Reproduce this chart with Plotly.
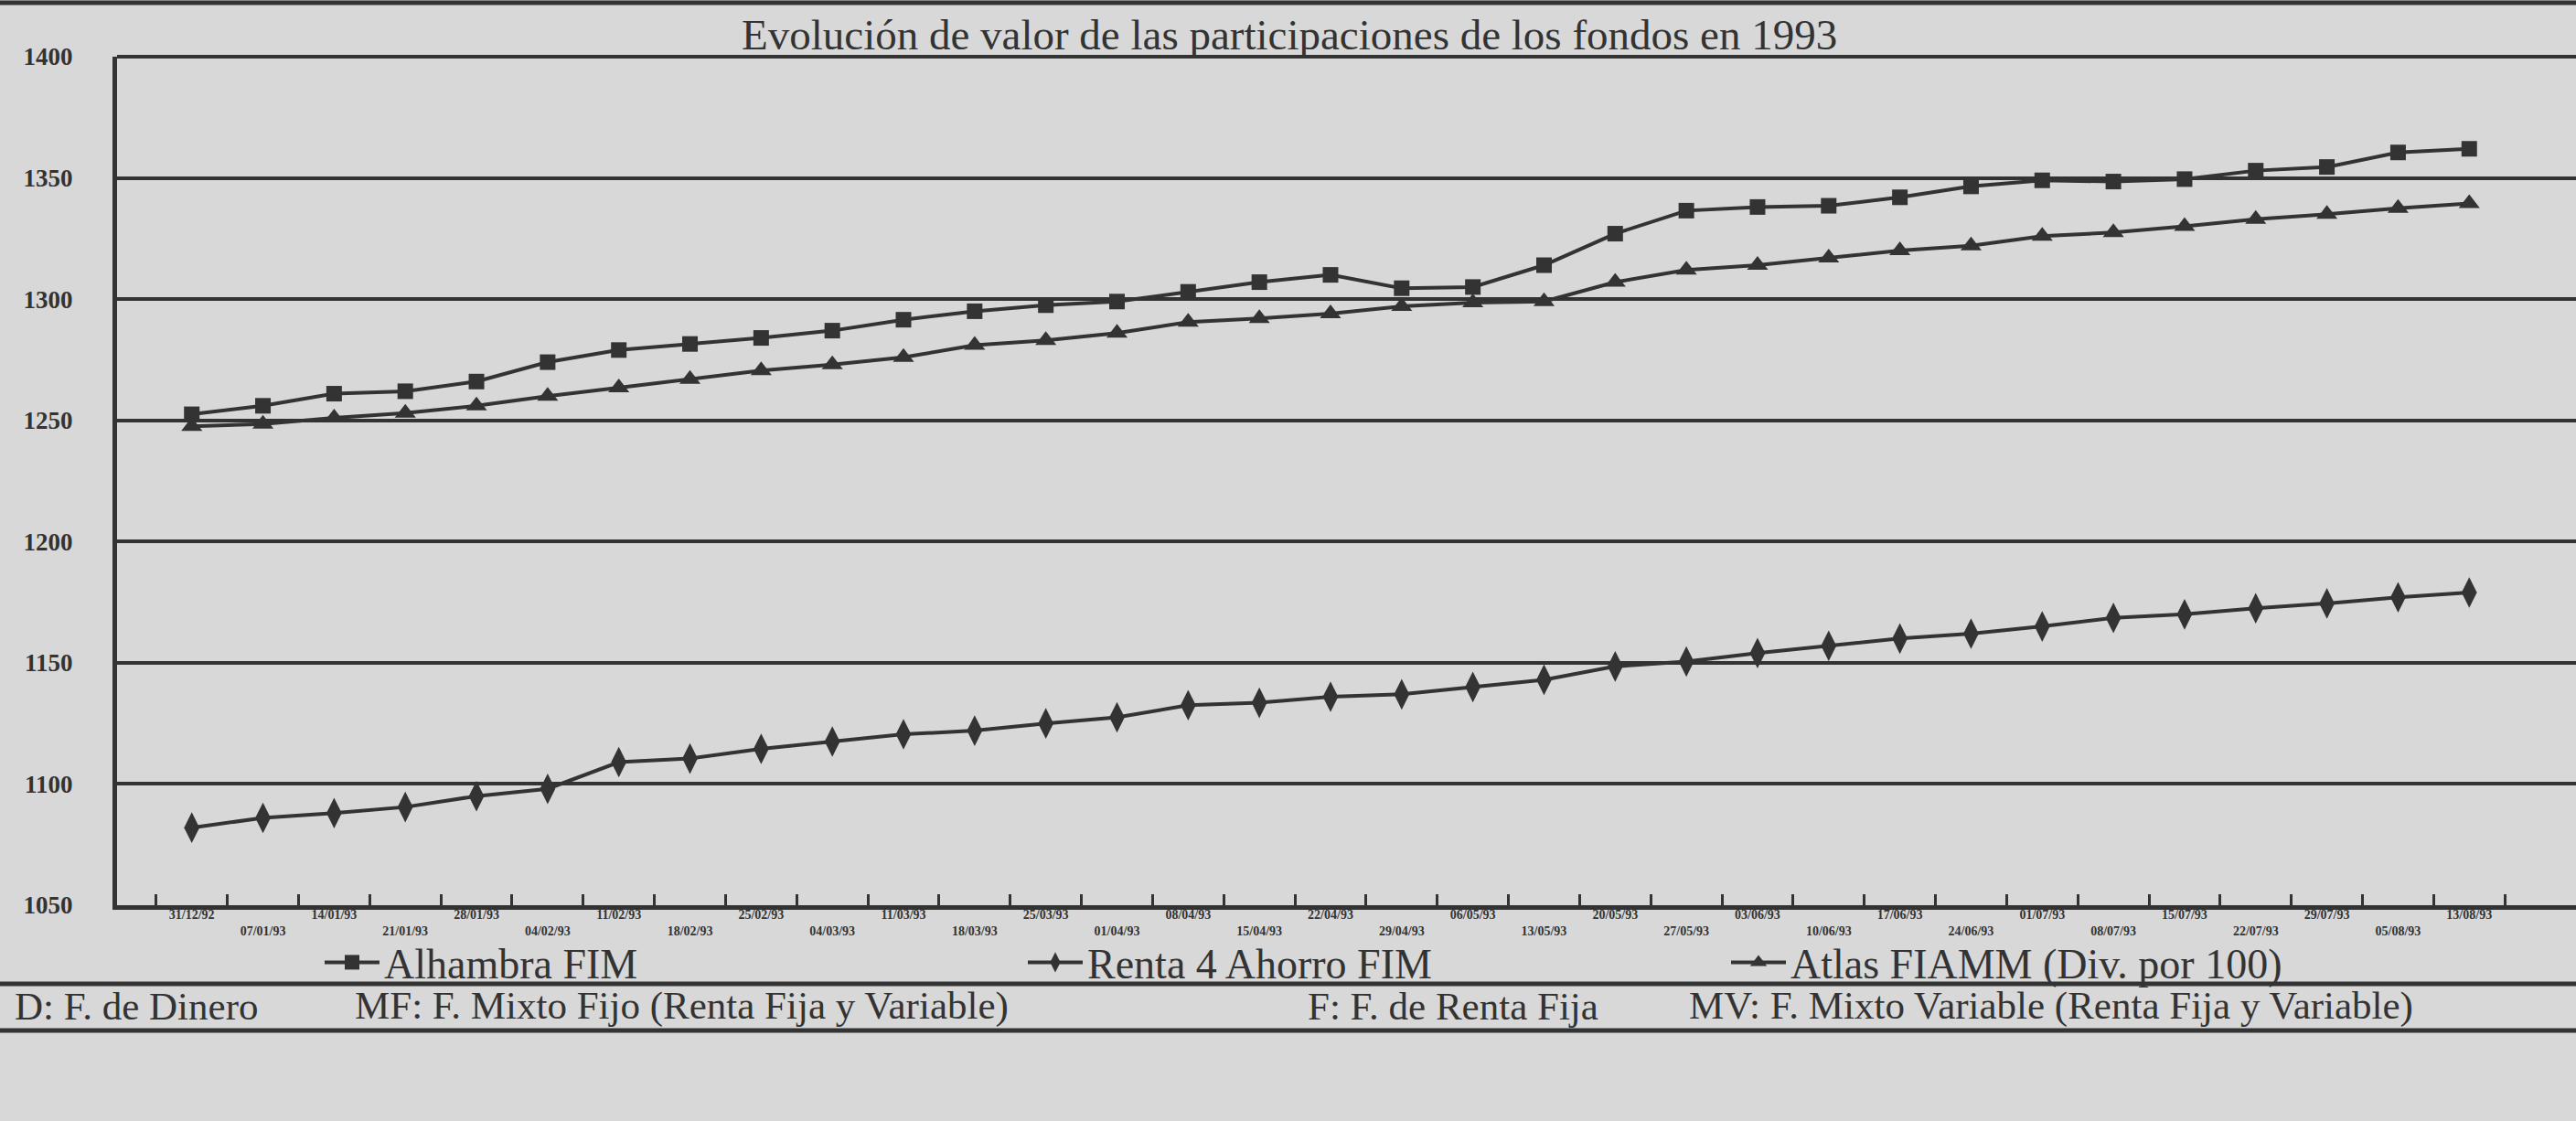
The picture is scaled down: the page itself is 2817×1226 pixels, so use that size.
import plotly.graph_objects as go

fechas = ["31/12/92", "07/01/93", "14/01/93", "21/01/93", "28/01/93", "04/02/93", "11/02/93",
          "18/02/93", "25/02/93", "04/03/93", "11/03/93", "18/03/93", "25/03/93", "01/04/93",
          "08/04/93", "15/04/93", "22/04/93", "29/04/93", "06/05/93", "13/05/93", "20/05/93",
          "27/05/93", "03/06/93", "10/06/93", "17/06/93", "24/06/93", "01/07/93", "08/07/93",
          "15/07/93", "22/07/93", "29/07/93", "05/08/93", "13/08/93"]

alhambra = [1252.5, 1256, 1261, 1262, 1266, 1274, 1279, 1281.5, 1284, 1287, 1291.5,
            1295, 1297.5, 1299, 1303, 1307, 1310, 1304.5, 1305, 1314, 1327, 1336.5,
            1338, 1338.5, 1342, 1346.5, 1349, 1348.5, 1349.5, 1353, 1354.5, 1360.5, 1362]
renta4 = [1082, 1086, 1088, 1090.5, 1095, 1098, 1109, 1110.5, 1114.5, 1117.5, 1120.5,
          1122, 1125, 1127.5, 1132.5, 1133.5, 1136, 1137, 1140, 1143, 1148.5, 1150.5,
          1154, 1157, 1160, 1162, 1165, 1168.5, 1170, 1172.5, 1174.5, 1177, 1179]
atlas = [1247.5, 1248.5, 1251, 1253, 1256, 1260, 1263.5, 1267, 1270.5, 1273, 1276,
         1281, 1283, 1286, 1290.5, 1292, 1294, 1297, 1298.5, 1299, 1307, 1312,
         1314, 1317, 1320, 1322, 1326, 1327.5, 1330, 1333, 1335, 1337.5, 1339.5]

series_names = ["Alhambra FIM", "Renta 4 Ahorro FIM", "Atlas FIAMM (Div. por 100)"]
titulo = "Evolución de valor de las participaciones de los fondos en 1993"
notas = ["D: F. de Dinero", "MF: F. Mixto Fijo (Renta Fija y Variable)",
         "F: F. de Renta Fija", "MV: F. Mixto Variable (Renta Fija y Variable)"]
y_ticks = [1050, 1100, 1150, 1200, 1250, 1300, 1350, 1400]

INK = "#333333"
PAPER = "#d8d8d8"
SERIF = "Liberation Serif"

# staggered two-row date labels
cats = [f if i % 2 == 0 else "<br>" + f for i, f in enumerate(fechas)]

fig = go.Figure()
fig.add_trace(go.Scatter(x=cats, y=alhambra, name=series_names[0], mode="lines+markers",
                         line=dict(color=INK, width=4),
                         marker=dict(symbol="square", size=17, color=INK)))
fig.add_trace(go.Scatter(x=cats, y=renta4, name=series_names[1], mode="lines+markers",
                         line=dict(color=INK, width=4),
                         marker=dict(symbol="diamond-tall", size=24, color=INK)))
fig.add_trace(go.Scatter(x=cats, y=atlas, name=series_names[2], mode="lines+markers",
                         line=dict(color=INK, width=4),
                         marker=dict(symbol="triangle-up", size=20, color=INK)))

W, H = 2817, 1226
L, R, T, B = 128, 0, 62, 236
pw, ph = W - L - R, H - T - B

def px_x(px):
    return (px - L) / pw

def px_y(py):
    return (H - B - py) / ph

fig.update_layout(
    width=W, height=H,
    margin=dict(l=L, r=R, t=T, b=B, pad=0),
    paper_bgcolor=PAPER, plot_bgcolor=PAPER,
    font=dict(family=SERIF, color=INK),
    showlegend=True,
    legend=dict(orientation="h", x=px_x(350), y=px_y(1016), xanchor="left", yanchor="top",
                font=dict(family=SERIF, size=46, color=INK), bgcolor="rgba(0,0,0,0)",
                entrywidth=694, entrywidthmode="pixels", itemwidth=60),
    xaxis=dict(type="category", range=[-1.05, 33.5], showgrid=False,
               showline=True, linecolor=INK, linewidth=5,
               ticks="inside", tickson="boundaries", ticklen=12, tickwidth=3, tickcolor=INK,
               ticklabelstandoff=-7,
               tickfont=dict(family=SERIF, size=14, color=INK, weight="bold"),
               tickangle=0, zeroline=False),
    yaxis=dict(range=[1050, 1400], tickvals=y_ticks, showgrid=True, gridcolor=INK, gridwidth=4,
               showline=True, linecolor=INK, linewidth=5, ticks="", zeroline=False,
               ticklabelstandoff=38,
               tickfont=dict(family=SERIF, size=27, color=INK, weight="bold")),
)

# title
fig.add_annotation(text=titulo, xref="paper", yref="paper", x=px_x(1410), y=px_y(38),
                   xanchor="center", yanchor="middle", showarrow=False,
                   font=dict(family=SERIF, size=47, color=INK))

# footnote row
note_x = [14, 386, 1428, 1845]
for t, xp in zip(notas, note_x):
    fig.add_annotation(text=t, xref="paper", yref="paper", x=px_x(xp), y=px_y(1100),
                       xanchor="left", yanchor="middle", showarrow=False,
                       font=dict(family=SERIF, size=43, color=INK))

# frame lines (top of plot, page rules)
fig.add_shape(type="line", xref="paper", yref="paper", x0=0, x1=1, y0=1, y1=1,
              line=dict(color=INK, width=4))
for py, w in [(3, 5), (1076, 5), (1127, 5)]:
    fig.add_shape(type="line", xref="paper", yref="paper", x0=px_x(0), x1=px_x(W),
                  y0=px_y(py), y1=px_y(py), line=dict(color=INK, width=w))

fig.write_html("out.html", config={"displayModeBar": False},
               post_script="document.body.style.margin='0';document.body.style.overflow='hidden';")
